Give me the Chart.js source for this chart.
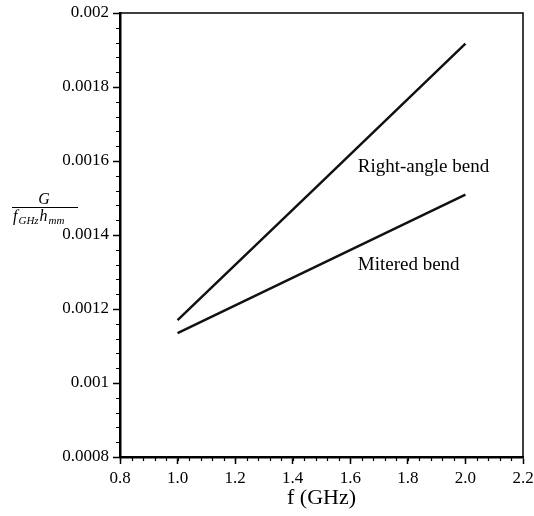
<!DOCTYPE html>
<html lang="en">

<head>
    <meta charset="UTF-8">
    <title>Bend conductance vs frequency</title>
    <script src="https://cdn.jsdelivr.net/npm/chart.js"></script>
    <style>
        body { margin: 0; background: #fff; }
        #wrap { width: 534px; height: 516px; }
    </style>
</head>

<body>
    <div id="wrap"><canvas id="bendChart"></canvas></div>

    <script>
        // values
        const freqGHz = [1.0, 1.5, 2.0];
        const rightAngle = [0.00117, 0.001543, 0.001917];
        const mitered = [0.001135, 0.001322, 0.001509];

        const xTicks = [0.8, 1.0, 1.2, 1.4, 1.6, 1.8, 2.0, 2.2];
        const yTicks = [0.0008, 0.001, 0.0012, 0.0014, 0.0016, 0.0018, 0.002];
        const xMinorStep = 0.04;
        const yMinorStep = 0.00004;

        // curve labels, placed in data units
        const curveLabels = [
            { text: "Right-angle bend", x: 1.626, y: 0.001585 },
            { text: "Mitered bend", x: 1.626, y: 0.00132 }
        ];

        const serif = '"Liberation Serif", "DejaVu Serif", serif';

        function toPoints(xs, ys) {
            return xs.map((x, i) => ({ x: x, y: ys[i] }));
        }

        const decor = {
            id: "decor",
            afterDraw(chart) {
                const ctx = chart.ctx;
                const a = chart.chartArea;
                const xs = chart.scales.x;
                const ys = chart.scales.y;
                ctx.save();
                ctx.strokeStyle = "#000";

                // top and right frame
                ctx.lineWidth = 1.5;
                ctx.beginPath();
                ctx.moveTo(a.left, a.top);
                ctx.lineTo(a.right, a.top);
                ctx.lineTo(a.right, a.bottom);
                ctx.stroke();

                // minor ticks
                ctx.lineWidth = 1.2;
                ctx.beginPath();
                for (let v = xTicks[0]; v < xTicks[xTicks.length - 1]; v += xMinorStep) {
                    let px = Math.round(xs.getPixelForValue(v)) + 0.5;
                    ctx.moveTo(px, a.bottom);
                    ctx.lineTo(px, a.bottom + 4);
                }
                for (let v = yTicks[0]; v < yTicks[yTicks.length - 1]; v += yMinorStep) {
                    let py = Math.round(ys.getPixelForValue(v)) + 0.5;
                    ctx.moveTo(a.left, py);
                    ctx.lineTo(a.left - 4, py);
                }
                ctx.stroke();

                // curve labels
                ctx.fillStyle = "#000";
                ctx.font = "19px " + serif;
                ctx.textBaseline = "middle";
                ctx.textAlign = "left";
                curveLabels.forEach(l => {
                    ctx.fillText(l.text, xs.getPixelForValue(l.x), ys.getPixelForValue(l.y));
                });

                // y axis title: G / (f_GHz h_mm)
                ctx.textBaseline = "alphabetic";
                ctx.textAlign = "center";
                ctx.font = "italic 16px " + serif;
                ctx.fillText("G", 44, 204);
                ctx.lineWidth = 1;
                ctx.beginPath();
                ctx.moveTo(12, 207.5);
                ctx.lineTo(78, 207.5);
                ctx.stroke();

                ctx.textAlign = "left";
                let cx = 13;
                const parts = [["f", 16, 221], ["GHz", 11, 224], ["h", 16, 221], ["mm", 11, 224]];
                parts.forEach(p => {
                    ctx.font = "italic " + p[1] + "px " + serif;
                    ctx.fillText(p[0], cx, p[2]);
                    cx += ctx.measureText(p[0]).width + 1;
                });

                ctx.restore();
            }
        };

        new Chart(document.getElementById("bendChart"), {
            type: "line",
            data: {
                datasets: [{
                    label: "Right-angle bend",
                    data: toPoints(freqGHz, rightAngle),
                    borderColor: "#111",
                    borderWidth: 2.5,
                    pointRadius: 0,
                    fill: false
                }, {
                    label: "Mitered bend",
                    data: toPoints(freqGHz, mitered),
                    borderColor: "#111",
                    borderWidth: 2.5,
                    pointRadius: 0,
                    fill: false
                }]
            },
            options: {
                responsive: true,
                maintainAspectRatio: false,
                animation: false,
                layout: { padding: { left: 0, right: 11, top: 13, bottom: 0 } },
                plugins: {
                    legend: { display: false },
                    tooltip: { enabled: false }
                },
                scales: {
                    x: {
                        type: "linear",
                        min: xTicks[0],
                        max: xTicks[xTicks.length - 1],
                        afterBuildTicks: s => { s.ticks = xTicks.map(v => ({ value: v })); },
                        afterFit: s => { s.height = 59; s.paddingLeft = 0; s.paddingRight = 0; },
                        ticks: {
                            autoSkip: false,
                            maxRotation: 0,
                            color: "#000",
                            padding: 4,
                            font: { family: serif, size: 17 },
                            callback: v => v.toFixed(1)
                        },
                        grid: { drawOnChartArea: false, tickLength: 7, tickColor: "#000", tickWidth: 1.5 },
                        border: { color: "#000", width: 2.5 },
                        title: {
                            display: true,
                            text: "f (GHz)",
                            color: "#000",
                            font: { family: serif, size: 22 },
                            padding: { top: 0, bottom: 5 }
                        }
                    },
                    y: {
                        min: yTicks[0],
                        max: yTicks[yTicks.length - 1],
                        afterBuildTicks: s => { s.ticks = yTicks.map(v => ({ value: v })); },
                        afterFit: s => { s.width = 120; s.paddingTop = 0; s.paddingBottom = 0; },
                        ticks: {
                            autoSkip: false,
                            color: "#000",
                            padding: 4,
                            font: { family: serif, size: 17 },
                            callback: v => String(+v.toFixed(4))
                        },
                        grid: { drawOnChartArea: false, tickLength: 7, tickColor: "#000", tickWidth: 1.5 },
                        border: { color: "#000", width: 2.5 }
                    }
                }
            },
            plugins: [decor]
        });
    </script>

</body>

</html>
